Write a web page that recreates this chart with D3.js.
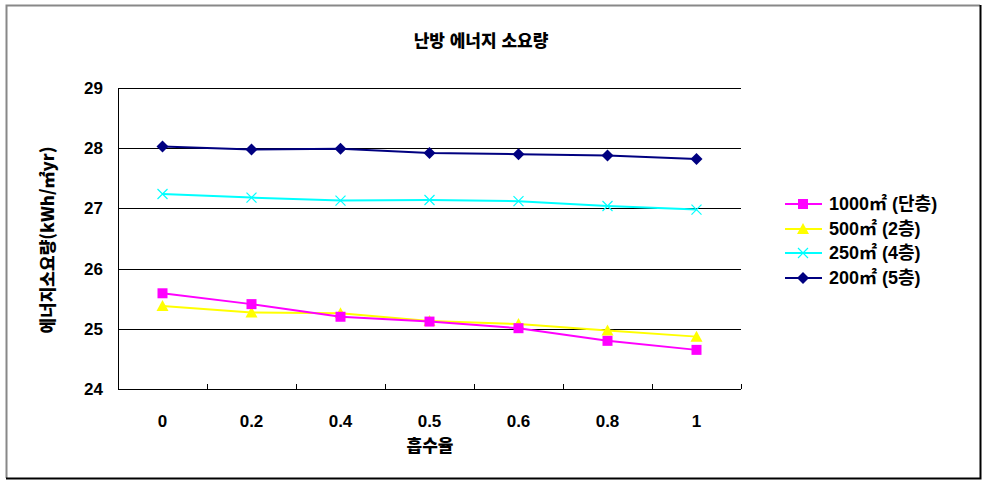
<!DOCTYPE html>
<html lang="ko">
<head>
    <meta charset="UTF-8">
    <title>난방 에너지 소요량</title>
    <script src="https://d3js.org/d3.v7.min.js"></script>
    <style>
        body { margin: 0; background: #fff; }
        text { font-family: "Liberation Sans", "Noto Sans CJK KR", sans-serif; font-weight: bold; fill: #000; }
        .kr { font-family: "Noto Sans CJK KR", sans-serif; font-weight: 900; }
    </style>
</head>
<body>
    <script>
        // data
        const categories = ["0", "0.2", "0.4", "0.5", "0.6", "0.8", "1"];
        const seriesNames = ["1000㎡ (단층)", "500㎡ (2층)", "250㎡ (4층)", "200㎡ (5층)"];
        const s1000 = [25.59, 25.41, 25.20, 25.12, 25.01, 24.80, 24.65];
        const s500 = [25.38, 25.27, 25.26, 25.13, 25.08, 24.97, 24.87];
        const s250 = [27.24, 27.18, 27.13, 27.14, 27.12, 27.04, 26.98];
        const s200 = [28.03, 27.98, 27.99, 27.92, 27.90, 27.88, 27.82];
        const yTicks = [24, 25, 26, 27, 28, 29];

        const W = 985, H = 482;
        const plot = { left: 118, right: 741, top: 88, bottom: 389 };

        const svg = d3.select("body").append("svg")
            .attr("width", W)
            .attr("height", H);

        // outer frame
        svg.append("path").attr("d", "M6.5,478 V5.5 H980").attr("fill", "none").attr("stroke", "#888").attr("stroke-width", 2);
        svg.append("path").attr("d", "M6,478.5 H980.5 V5").attr("fill", "none").attr("stroke", "#000").attr("stroke-width", 2);

        const x = d3.scaleBand().domain(categories).range([plot.left, plot.right]);
        const y = d3.scaleLinear().domain([24, 29]).range([plot.bottom, plot.top]);

        // gridlines
        svg.append("g")
            .selectAll("line")
            .data(yTicks)
            .enter().append("line")
            .attr("x1", plot.left).attr("x2", plot.right)
            .attr("y1", d => Math.round(y(d)) + 0.5).attr("y2", d => Math.round(y(d)) + 0.5)
            .attr("stroke", "#000").attr("stroke-width", 1);

        // left axis line
        svg.append("line")
            .attr("x1", plot.left + 0.5).attr("x2", plot.left + 0.5)
            .attr("y1", plot.top).attr("y2", plot.bottom + 1)
            .attr("stroke", "#000");

        // y tick labels
        svg.append("g")
            .selectAll("text")
            .data(yTicks)
            .enter().append("text")
            .attr("x", 103).attr("y", d => y(d) + 6)
            .attr("text-anchor", "end")
            .style("font-size", "17px")
            .text(d => d);

        // x axis ticks at band boundaries (pointing inward)
        svg.append("g")
            .selectAll("line")
            .data(categories)
            .enter().append("line")
            .attr("x1", d => Math.round(x(d) + x.bandwidth()) + 0.5)
            .attr("x2", d => Math.round(x(d) + x.bandwidth()) + 0.5)
            .attr("y1", plot.bottom - 5).attr("y2", plot.bottom)
            .attr("stroke", "#000");

        svg.append("g")
            .selectAll("text")
            .data(categories)
            .enter().append("text")
            .attr("x", d => x(d) + x.bandwidth() / 2)
            .attr("y", 427)
            .attr("text-anchor", "middle")
            .style("font-size", "17px")
            .text(d => d);

        // titles
        svg.append("text").attr("class", "kr")
            .attr("x", 481).attr("y", 47)
            .attr("text-anchor", "middle")
            .style("font-size", "17px")
            .text("난방 에너지 소요량");

        svg.append("text").attr("class", "kr")
            .attr("x", 430).attr("y", 452)
            .attr("text-anchor", "middle")
            .style("font-size", "17px")
            .text("흡수율");

        svg.append("text").attr("class", "kr")
            .attr("transform", "translate(54,240) rotate(-90)")
            .attr("text-anchor", "middle")
            .style("font-size", "17px")
            .text("에너지소요량(kWh/㎡yr)");

        const colors = ["#ff00ff", "#ffff00", "#00ffff", "#000080"];
        const allSeries = [s1000, s500, s250, s200];

        const line = d3.line()
            .x((d, i) => x(categories[i]) + x.bandwidth() / 2)
            .y(d => y(d));

        function drawMarker(g, k, cx, cy) {
            let d;
            if (k === 0) d = `M${cx - 5},${cy - 5}h10v10h-10Z`;
            else if (k === 1) d = `M${cx},${cy - 6}L${cx + 6},${cy + 5}L${cx - 6},${cy + 5}Z`;
            else if (k === 3) d = `M${cx},${cy - 6}L${cx + 6},${cy}L${cx},${cy + 6}L${cx - 6},${cy}Z`;
            if (k === 2) {
                g.append("path")
                    .attr("d", `M${cx - 5},${cy - 5}L${cx + 5},${cy + 5}M${cx - 5},${cy + 5}L${cx + 5},${cy - 5}`)
                    .attr("stroke", colors[k]).attr("stroke-width", 1.2).attr("fill", "none");
            } else {
                g.append("path").attr("d", d).attr("fill", colors[k]);
            }
        }

        // draw navy first, then cyan, yellow, magenta
        [3, 2, 1, 0].forEach(k => {
            const g = svg.append("g");
            g.append("path")
                .datum(allSeries[k])
                .attr("d", line)
                .attr("fill", "none")
                .attr("stroke", colors[k])
                .attr("stroke-width", 2);
            allSeries[k].forEach((v, i) => drawMarker(g, k, x(categories[i]) + x.bandwidth() / 2, y(v)));
        });

        // legend
        const legendY = [204, 229, 253, 278];
        seriesNames.forEach((name, k) => {
            const g = svg.append("g");
            g.append("line")
                .attr("x1", 785).attr("x2", 822)
                .attr("y1", legendY[k]).attr("y2", legendY[k])
                .attr("stroke", colors[k]).attr("stroke-width", 2);
            drawMarker(g, k, 803, legendY[k]);
            g.append("text")
                .attr("x", 829).attr("y", legendY[k] + 6)
                .style("font-size", "18px")
                .text(name);
        });
    </script>
</body>
</html>
